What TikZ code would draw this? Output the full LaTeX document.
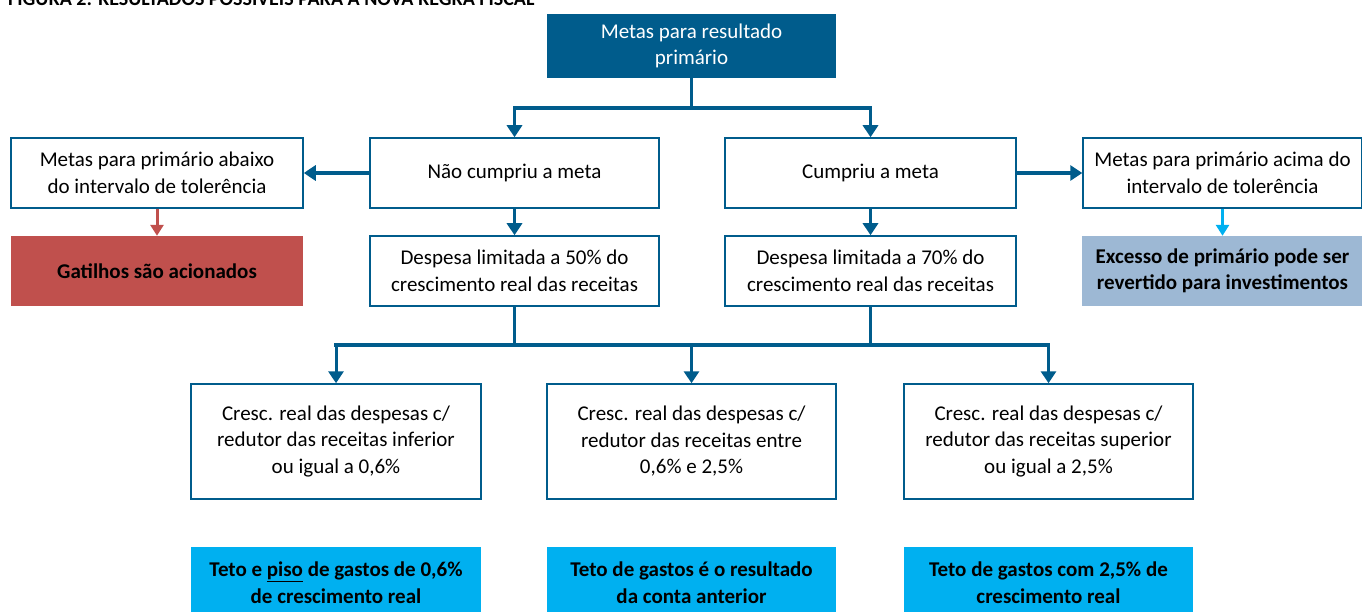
\documentclass[tikz,border=0pt]{standalone}
\usepackage{fontspec}
\setmainfont{Carlito}
\usetikzlibrary{arrows.meta}
\definecolor{dblue}{RGB}{0,92,140}
\definecolor{redbox}{RGB}{192,80,77}
\definecolor{greybl}{RGB}{157,184,212}
\definecolor{cyanbox}{RGB}{0,176,240}
\tikzset{
  wbox/.style={draw=dblue,line width=1.5pt,fill=white,minimum width=#1,inner sep=0pt,align=center,font=\fontsize{21}{26.5}\selectfont},
  cbox/.style={minimum width=#1,inner sep=0pt,align=center,font=\fontsize{21}{26.5}\selectfont\bfseries},
  conn/.style={draw=dblue,line width=3.5pt},
  arr/.style={draw=dblue,line width=3.5pt,-{Triangle[width=15pt,length=12pt]}},
}
\begin{document}
\begin{tikzpicture}[x=1pt,y=-1pt]
\useasboundingbox (0,0) rectangle (1362,612);
\clip (0,0) rectangle (1362,612);
\node[anchor=base west,font=\fontsize{20}{22}\selectfont\bfseries,inner sep=0pt] (title) at (8,6) {FIGURA 2: RESULTADOS POSSÍVEIS PARA A NOVA REGRA FISCAL};
% top
\node[fill=dblue,text=white,minimum width=289pt,minimum height=64pt,inner sep=0pt,align=center,font=\fontsize{21}{26.5}\selectfont] (top) at (691.5,46) {Metas para resultado\\primário};
% row 1
\node[wbox=292pt,minimum height=70pt] (abaixo) at (157,173) {Metas para primário abaixo\\do intervalo de tolerência};
\node[wbox=289pt,minimum height=70pt] (nao) at (514.5,173) {Não cumpriu a meta};
\node[wbox=291pt,minimum height=70pt] (cump) at (870.5,173) {Cumpriu a meta};
\node[wbox=279pt,minimum height=70pt] (acima) at (1222.5,173) {Metas para primário acima do\\intervalo de tolerência};
% row 2
\node[cbox=292pt,fill=redbox,minimum height=70pt] (gat) at (157,271) {Gatilhos são acionados};
\node[wbox=289pt,minimum height=70pt] (d50) at (514.5,271) {Despesa limitada a 50\% do\\crescimento real das receitas};
\node[wbox=291pt,minimum height=70pt] (d70) at (870.5,271) {Despesa limitada a 70\% do\\crescimento real das receitas};
\node[cbox=281pt,fill=greybl,minimum height=70pt] (exc) at (1222.5,271) {Excesso de primário pode ser\\revertido para investimentos};
% row 3
\node[wbox=290pt,minimum height=115pt] (c1) at (336,441.5) {Cresc. real das despesas c/\\redutor das receitas inferior\\ou igual a 0,6\%};
\node[wbox=289pt,minimum height=115pt] (c2) at (691.5,441.5) {Cresc. real das despesas c/\\redutor das receitas entre\\0,6\% e 2,5\%};
\node[wbox=289pt,minimum height=115pt] (c3) at (1048.5,441.5) {Cresc. real das despesas c/\\redutor das receitas superior\\ou igual a 2,5\%};
% row 4
\node[cbox=290pt,fill=cyanbox,minimum height=71pt] (t1) at (336,582.5) {Teto e \underline{piso} de gastos de 0,6\%\\de crescimento real};
\node[cbox=289pt,fill=cyanbox,minimum height=71pt] (t2) at (691.5,582.5) {Teto de gastos é o resultado\\da conta anterior};
\node[cbox=289pt,fill=cyanbox,minimum height=71pt] (t3) at (1048.5,582.5) {Teto de gastos com 2,5\% de\\crescimento real};
% connectors top
\coordinate (j1) at (691.5,108);
\draw[conn] (top.south) -- (j1);
\draw[arr] (j1) -| (nao.north);
\draw[arr] (j1) -| (cump.north);
% sides
\draw[arr] (nao.west) -- (abaixo.east);
\draw[arr] (cump.east) -- (acima.east -| acima.west);
\draw[arr] (nao.south) -- (d50.north);
\draw[arr] (cump.south) -- (d70.north);
\draw[draw=redbox,line width=3pt,-{Triangle[width=13pt,length=11pt]}] (abaixo.south) -- (gat.north);
\draw[draw=cyanbox,line width=3pt,-{Triangle[width=13pt,length=11pt]}] (acima.south) -- (exc.north);
% lower tree
\coordinate (j2) at (514.5,345);
\coordinate (j3) at (870.5,345);
\coordinate (j4) at (691.5,345);
\draw[conn,line width=3pt] (d50.south) -- (j2);
\draw[conn,line width=3pt] (d70.south) -- (j3);
\draw[conn,line cap=rect] (c1.north |- j2) -- (c3.north |- j2);
\draw[arr,line width=3pt] (c1.north |- j2) -- (c1.north);
\draw[arr,line width=3pt] (j4) -- (c2.north);
\draw[arr,line width=3pt] (c3.north |- j2) -- (c3.north);
\end{tikzpicture}
\end{document}
